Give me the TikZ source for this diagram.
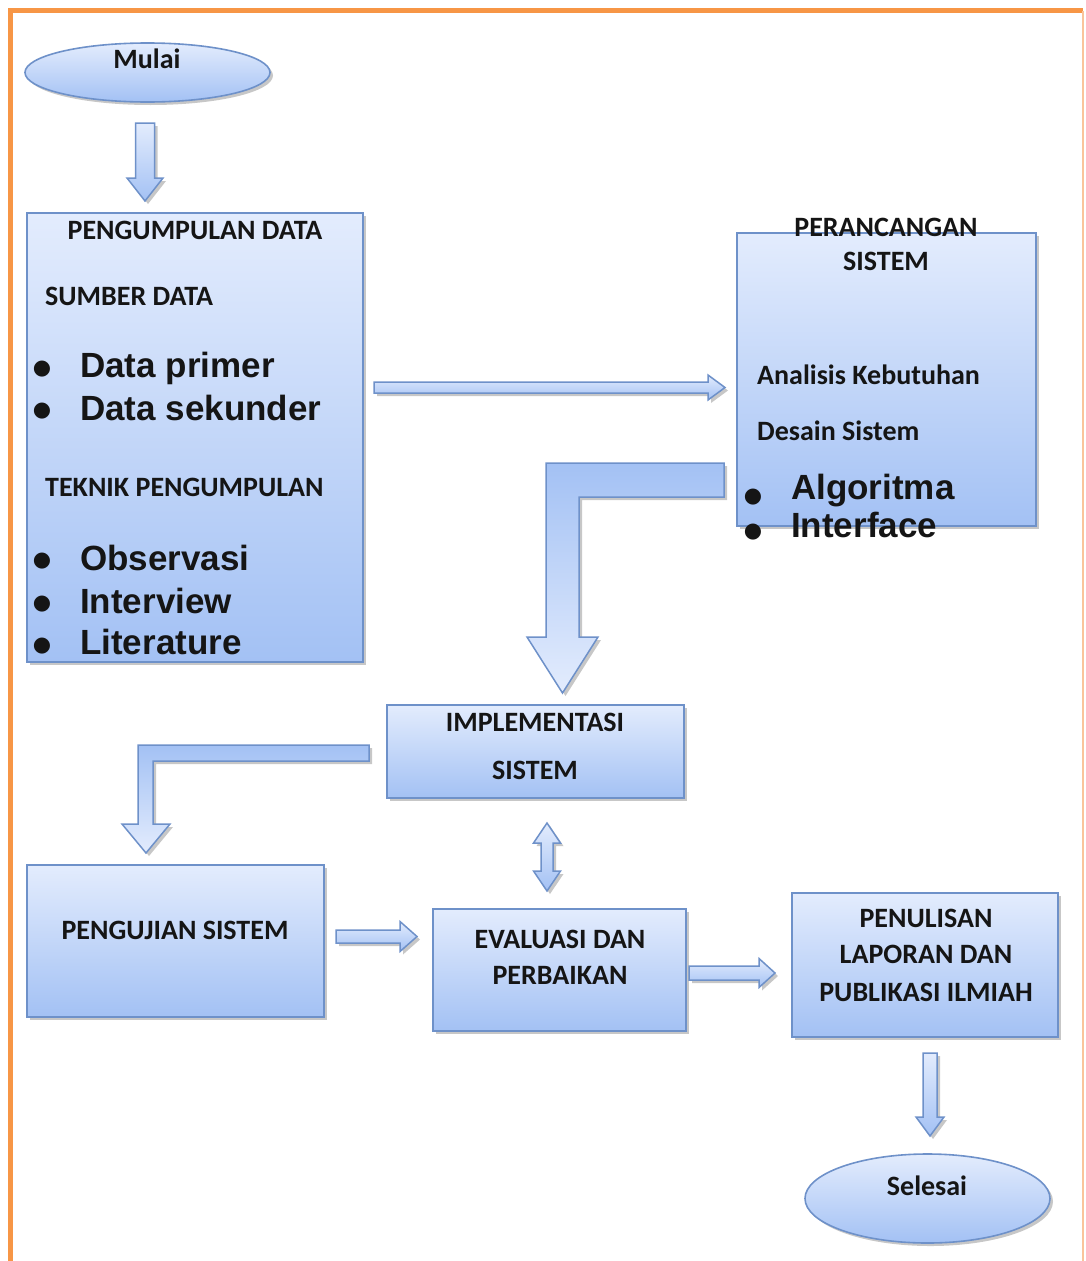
\documentclass[tikz,border=0pt]{standalone}
\usepackage{fontspec}
\setmainfont{Carlito}
\newfontfamily\arialf{Liberation Sans}
\newfontfamily\dejaf{DejaVu Sans}
\usetikzlibrary{shapes.geometric,shadows}
\definecolor{lightb}{HTML}{E3ECFD}
\definecolor{darkb}{HTML}{A3C1F4}
\definecolor{edgeb}{HTML}{6E91C9}
\definecolor{orangeb}{HTML}{F79646}
\definecolor{orangel}{HTML}{FAC49B}
\definecolor{txt}{HTML}{151515}
\newcommand\vblk[7]{%
 \draw[#1] ({#2-#5},#3) -- ({#2+#5},#3) -- ({#2+#5},{#4-#7}) -- ({#2+#6},{#4-#7}) -- (#2,#4) -- ({#2-#6},{#4-#7}) -- ({#2-#5},{#4-#7}) -- cycle;}
\newcommand\hblk[7]{%
 \draw[#1] (#3,{#2-#5}) -- ({#4-#7},{#2-#5}) -- ({#4-#7},{#2-#6}) -- (#4,#2) -- ({#4-#7},{#2+#6}) -- ({#4-#7},{#2+#5}) -- (#3,{#2+#5}) -- cycle;}
\tikzset{
 shad/.style={drop shadow={opacity=0.22, shadow xshift=3pt, shadow yshift=-3pt, fill=black}},
 boxst/.style={draw=edgeb, line width=1.8pt, top color=lightb, bottom color=darkb, rectangle, inner sep=0, shad},
 ellst/.style={draw=edgeb, line width=1.6pt, top color=lightb, bottom color=darkb, ellipse, inner sep=0, shad},
 arrst/.style={draw=edgeb, line width=1.5pt, top color=lightb, bottom color=darkb, shad},
 larrst/.style={draw=edgeb, line width=1.5pt, top color=darkb, bottom color=lightb, shad},
 tx/.style={inner sep=0, text=txt, font=\fontsize{28}{32}\selectfont\bfseries},
 big/.style={inner sep=0, text=txt, font=\arialf\fontsize{35}{40}\selectfont\bfseries},
 bul/.style={inner sep=0, text=txt, font=\dejaf\fontsize{21}{24}\selectfont, anchor=base},
}
\begin{document}
\begin{tikzpicture}[x=1pt,y=-1pt]
\useasboundingbox (0,0) rectangle (1086,1261);
% border
\draw[orangeb, line width=4.5pt] (10.5,1270) -- (10.5,10.5) -- (1083,10.5);
\draw[orangel, line width=2pt] (1083,10.5) -- (1083,1270);

% start / end
\node[ellst, minimum width=245, minimum height=59] (mulai) at (147.5,72.5) {};
\node[tx, anchor=base] (tmulai) at (147,68) {Mulai};
\node[ellst, minimum width=245, minimum height=89] (selesai) at (927.5,1198.5) {};
\node[tx, anchor=base] (tselesai) at (927,1195) {Selesai};

% boxes
\node[boxst, minimum width=336, minimum height=449] (pd) at (195,437.5) {};
\node[boxst, minimum width=299, minimum height=293] (pr) at (886.5,379.5) {};
\node[boxst, minimum width=297, minimum height=93] (im) at (535.5,751.5) {};
\node[boxst, minimum width=297, minimum height=152] (pj) at (175.5,941) {};
\node[boxst, minimum width=253, minimum height=122] (ev) at (559.5,970) {};
\node[boxst, minimum width=266, minimum height=144] (pn) at (925,965) {};

% arrows
\vblk{arrst}{145}{123}{201}{9.5}{18}{23}
\hblk{arrst}{387.5}{374}{725}{5.5}{12.5}{17}
\draw[larrst] (724,463) -- (724,497) -- (579,497) -- (579,637) -- (598,637) -- (562.5,693) -- (527,637) -- (546,637) -- (546,463) -- cycle;
\draw[larrst] (369,745) -- (369,761) -- (153,761) -- (153,824) -- (170,824) -- (146,853) -- (122,824) -- (138,824) -- (138,745) -- cycle;
\draw[arrst] (547,823) -- (560.5,843) -- (553,843) -- (553,871) -- (560.5,871) -- (547,891) -- (533.5,871) -- (541,871) -- (541,843) -- (533.5,843) -- cycle;
\hblk{arrst}{936.5}{336}{417}{6.5}{15}{17}
\hblk{arrst}{973}{689}{775}{7}{14.5}{16}
\vblk{arrst}{930}{1053}{1136}{7}{14}{19}

% texts: pengumpulan data
\node[tx, anchor=base] (t1) at (195,239) {PENGUMPULAN DATA};
\node[tx, anchor=base west] (t2) at (45,305) {SUMBER DATA};
\node[bul] (b1) at (42,374) {●};
\node[big, anchor=base west] (t3) at (80,377) {Data primer};
\node[bul] (b2) at (42,416) {●};
\node[big, anchor=base west] (t4) at (80,420) {Data sekunder};
\node[tx, anchor=base west] (t5) at (45,496) {TEKNIK PENGUMPULAN};
\node[bul] (b3) at (42,566) {●};
\node[big, anchor=base west] (t6) at (80,570) {Observasi};
\node[bul] (b4) at (42,609) {●};
\node[big, anchor=base west] (t7) at (80,613) {Interview};
\node[bul] (b5) at (42,651) {●};
\node[big, anchor=base west] (t8) at (80,654) {Literature};

% perancangan
\node[tx, anchor=base] (t9) at (886,236) {PERANCANGAN};
\node[tx, anchor=base] (t10) at (886,270) {SISTEM};
\node[tx, anchor=base west] (t11) at (757,384) {Analisis Kebutuhan};
\node[tx, anchor=base west] (t12) at (757,440) {Desain Sistem};
\node[bul] (b6) at (753,502) {●};
\node[big, anchor=base west] (t13) at (791,499) {Algoritma};
\node[bul] (b7) at (753,537) {●};
\node[big, anchor=base west] (t14) at (791,537) {Interface};

% implementasi
\node[tx, anchor=base] (t15) at (535,731) {IMPLEMENTASI};
\node[tx, anchor=base] (t16) at (535,779) {SISTEM};
% pengujian
\node[tx, anchor=base] (t17) at (175,939) {PENGUJIAN SISTEM};
% evaluasi
\node[tx, anchor=base] (t18) at (560,948) {EVALUASI DAN};
\node[tx, anchor=base] (t19) at (560,984) {PERBAIKAN};
% penulisan
\node[tx, anchor=base] (t20) at (926,927) {PENULISAN};
\node[tx, anchor=base] (t21) at (926,963) {LAPORAN DAN};
\node[tx, anchor=base] (t22) at (926,1001) {PUBLIKASI ILMIAH};
\end{tikzpicture}
\end{document}
